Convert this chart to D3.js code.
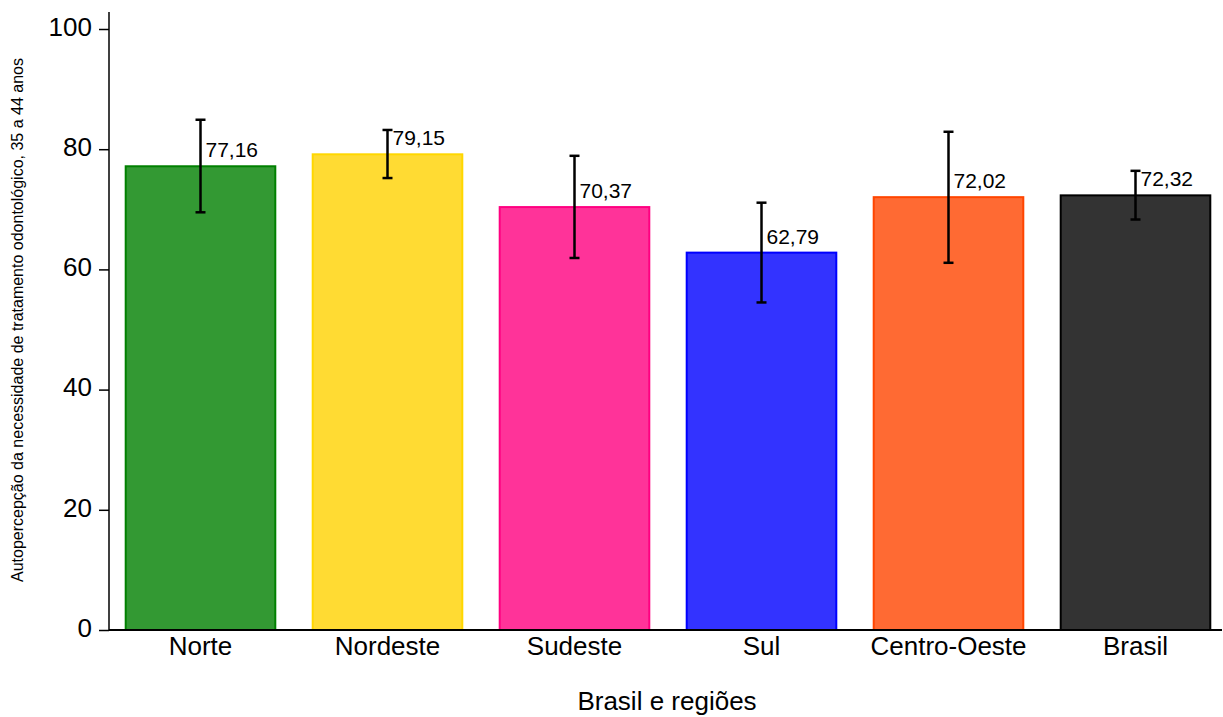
<!DOCTYPE html>
<html><head><meta charset="utf-8">
<script src="https://cdn.jsdelivr.net/npm/d3@7"></script>
<style>body{margin:0;background:#fff;} svg{display:block;font-family:"Liberation Sans",Arial,sans-serif;}</style>
</head><body>
<svg id="chart" width="1223" height="717"></svg>
<script>
const categories = ["Norte","Nordeste","Sudeste","Sul","Centro-Oeste","Brasil"];
const values = [77.16, 79.15, 70.37, 62.79, 72.02, 72.32];
const lower = [69.5, 75.2, 61.9, 54.5, 61.1, 68.3];
const upper = [84.9, 83.2, 78.9, 71.1, 82.9, 76.4];
const labels = ["77,16","79,15","70,37","62,79","72,02","72,32"];
const yTicks = [0, 20, 40, 60, 80, 100];
const fills = ["#339933","#ffdb33","#ff3399","#3333ff","#ff6a33","#333333"];
const strokes = ["#008000","#ffd700","#ff0080","#0000ff","#ff4500","#000000"];

const svg = d3.select("#chart");
const x = d3.scaleBand().domain(categories).range([107, 1229]).paddingInner(0.2).paddingOuter(0.1);
const y = d3.scaleLinear().domain([0, 100]).range([630, 29]);

// bars
svg.append("g").selectAll("rect").data(categories).join("rect")
  .attr("x", d => x(d)).attr("width", x.bandwidth())
  .attr("y", (d,i) => y(values[i])).attr("height", (d,i) => y(0) - y(values[i]))
  .attr("fill", (d,i) => fills[i]).attr("stroke", (d,i) => strokes[i]).attr("stroke-width", 2);

// error bars
const eb = svg.append("g").attr("stroke", "#000").attr("stroke-width", 2.5);
categories.forEach((c,i) => {
  const cx = x(c) + x.bandwidth()/2;
  eb.append("line").attr("x1", cx).attr("x2", cx).attr("y1", y(lower[i])).attr("y2", y(upper[i]));
  eb.append("line").attr("x1", cx-5).attr("x2", cx+5).attr("y1", y(lower[i])).attr("y2", y(lower[i]));
  eb.append("line").attr("x1", cx-5).attr("x2", cx+5).attr("y1", y(upper[i])).attr("y2", y(upper[i]));
});

// value labels
svg.append("g").selectAll("text").data(categories).join("text")
  .attr("x", d => x(d) + x.bandwidth()/2 + 5)
  .attr("y", (d,i) => y(values[i]) - 9)
  .attr("font-size", 21).attr("fill", "#000")
  .text((d,i) => labels[i]);

// y axis
const yAxis = svg.append("g").attr("transform", "translate(109,0)")
  .call(d3.axisLeft(y).tickValues(yTicks).tickSize(10).tickPadding(7).tickFormat(d3.format("d")));
yAxis.select(".domain").remove();
yAxis.selectAll(".tick line").attr("stroke", "#000").attr("stroke-width", 1.5);
yAxis.selectAll(".tick text").attr("font-size", 26).attr("font-family", "Liberation Sans, Arial, sans-serif").attr("fill", "#000").attr("dy", "0.24em");
svg.append("line").attr("x1", 109).attr("x2", 109).attr("y1", 12).attr("y2", y(0)).attr("stroke", "#000").attr("stroke-width", 1.5);

// x axis
const xAxis = svg.append("g").attr("transform", `translate(0,${y(0)})`)
  .call(d3.axisBottom(x).tickSize(0).tickPadding(7));
xAxis.select(".domain").remove();
xAxis.selectAll(".tick text").attr("font-size", 26).attr("font-family", "Liberation Sans, Arial, sans-serif").attr("fill", "#000").attr("dy", "0.71em");
svg.append("line").attr("x1", 109).attr("x2", 1222).attr("y1", y(0)).attr("y2", y(0)).attr("stroke", "#000").attr("stroke-width", 2);

// axis titles
svg.append("text").attr("x", 667).attr("y", 710).attr("text-anchor", "middle").attr("font-size", 26).attr("fill", "#000").text("Brasil e regiões");
svg.append("text").attr("transform", "translate(23,320) rotate(-90)").attr("text-anchor", "middle").attr("font-size", 16).attr("fill", "#000")
  .text("Autopercepção da necessidade de tratamento odontológico, 35 a 44 anos");
</script>
</body></html>
